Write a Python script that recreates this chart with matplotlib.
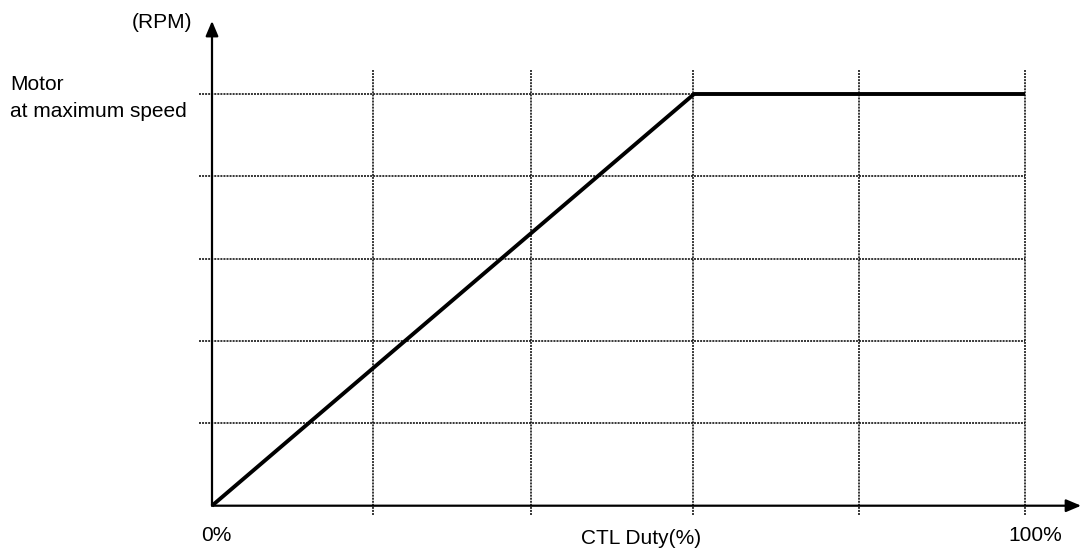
import matplotlib
matplotlib.use('Agg')
import matplotlib.pyplot as plt

plt.rcParams.update({
    'font.family': ['Liberation Sans', 'DejaVu Sans'],
    'font.size': 15,
})

# Données (CTL Duty en %, vitesse en niveaux de grille)
duty = [0, 59.3, 100]
speed = [0, 5, 5]

grid_x = [19.8, 39.2, 59.2, 79.6, 100]
grid_y = [1, 2, 3, 4, 5]

x_label = 'CTL Duty(%)'
y_label = '(RPM)'
max_label = ['Motor', 'at maximum speed']
x_ticks = ['0%', '100%']

W, H = 1082, 552
fig = plt.figure(figsize=(W / 100, H / 100), dpi=100)
# origine en (212, 505.7) px, 100 % en x=1025 px, niveau 5 en y=94 px
ax = fig.add_axes([212 / W, (H - 505.7) / H, (1025 - 212) / W, (505.7 - 94) / H])
ax.set_xlim(0, 100)
ax.set_ylim(0, 5)
ax.axis('off')

dot = (0, (1.3, 0.7))
for gx in grid_x:
    ax.plot([gx, gx], [-0.113, 5.29], color='black', lw=1.1, ls=dot, clip_on=False)
for gy in grid_y:
    ax.plot([-1.6, 100], [gy, gy], color='black', lw=1.1, ls=dot, clip_on=False)

# axes avec flèches
arrow = dict(arrowstyle='-|>,head_length=0.9,head_width=0.38', lw=1.6,
             color='black', shrinkA=0, shrinkB=0, mutation_scale=10)
ax.annotate('', xy=(106.9, 0), xytext=(0, 0), arrowprops=arrow, annotation_clip=False)
ax.annotate('', xy=(0, 5.887), xytext=(0, 0), arrowprops=arrow, annotation_clip=False)

ax.plot(duty, speed, color='black', lw=2.8, solid_capstyle='butt', clip_on=False)

ax.text(-2.46, 5.874, y_label, ha='right', va='center')
ax.text(-24.8, 5.12, max_label[0], ha='left', va='center')
ax.text(-24.8, 4.785, max_label[1], ha='left', va='center')
ax.text(0.5, -0.356, x_ticks[0], ha='center', va='center')
ax.text(101.2, -0.356, x_ticks[1], ha='center', va='center')
ax.text(52.8, -0.40, x_label, ha='center', va='center')

fig.savefig('out.png', dpi=100)
